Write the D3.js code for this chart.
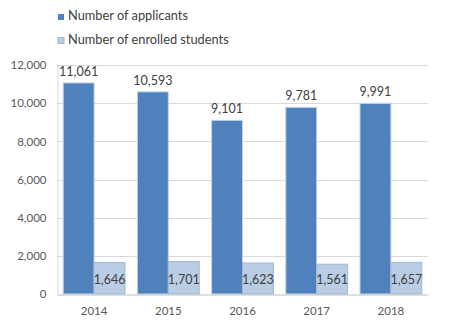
<!DOCTYPE html>
<html>
<head>
<meta charset="utf-8">
<script src="https://cdn.jsdelivr.net/npm/d3@7/dist/d3.min.js"></script>
<style>
  html, body { margin: 0; padding: 0; background: #fff; }
  svg { display: block; font-family: Lato, "Open Sans", sans-serif; }
</style>
</head>
<body>
<svg id="chart" width="450" height="328"></svg>
<script>
// Admissions per year
const years = ["2014", "2015", "2016", "2017", "2018"];
const applicants = [11061, 10593, 9101, 9781, 9991];
const enrolled = [1646, 1701, 1623, 1561, 1657];
const seriesNames = ["Number of applicants", "Number of enrolled students"];
const yTicks = [0, 2000, 4000, 6000, 8000, 10000, 12000];

const colors = { applicants: "#4F81BD", enrolled: "#B9CDE5" };
const strokes = { applicants: "#C6D4E8", enrolled: "#9DB7D9" };

const svg = d3.select("#chart");
const plot = { left: 57, right: 428, top: 65, bottom: 294 };

const x = d3.scaleBand().domain(years).range([plot.left, plot.right]).paddingInner(0).paddingOuter(0);
const barW = x.bandwidth() / 2.4;
const gap = (x.bandwidth() - 2 * barW) / 2;
const y = d3.scaleLinear().domain([0, 12000]).range([plot.bottom, plot.top]);
const fmt = d3.format(",");

// Gridlines
svg.append("g")
  .selectAll("line").data(yTicks.filter(d => d > 0)).join("line")
  .attr("x1", plot.left).attr("x2", plot.right)
  .attr("y1", d => Math.round(y(d)) + 0.5).attr("y2", d => Math.round(y(d)) + 0.5)
  .attr("stroke", "#D9D9D9").attr("stroke-width", 1);

// Y axis
const yAxis = svg.append("g")
  .attr("transform", `translate(${plot.left + 0.5},0)`)
  .call(d3.axisLeft(y).tickValues(yTicks).tickFormat(fmt).tickSize(0).tickPadding(11));
yAxis.select(".domain").attr("stroke", "#D9D9D9");
yAxis.selectAll("text").attr("fill", "#595959").style("font-size", "11.5px").style("font-family", "Lato, sans-serif");

// Bars
const groups = svg.append("g").selectAll("g").data(years).join("g")
  .attr("transform", d => `translate(${x(d)},0)`);

groups.append("rect")
  .attr("x", gap).attr("width", barW)
  .attr("y", (d, i) => y(applicants[i]))
  .attr("height", (d, i) => y(0) - y(applicants[i]))
  .attr("fill", colors.applicants).attr("stroke", strokes.applicants).attr("stroke-width", 1);

groups.append("rect")
  .attr("x", gap + barW).attr("width", barW)
  .attr("y", (d, i) => y(enrolled[i]))
  .attr("height", (d, i) => y(0) - y(enrolled[i]))
  .attr("fill", colors.enrolled).attr("stroke", strokes.enrolled).attr("stroke-width", 1);

// Value labels
groups.append("text")
  .attr("x", gap + barW / 2)
  .attr("y", (d, i) => y(applicants[i]) - 7)
  .attr("text-anchor", "middle")
  .attr("fill", "#404040").style("font-size", "12.5px")
  .text((d, i) => fmt(applicants[i]));

groups.append("text")
  .attr("x", gap + barW * 1.5)
  .attr("y", y(0) - 10)
  .attr("text-anchor", "middle")
  .attr("fill", "#404040").style("font-size", "12.5px")
  .text((d, i) => fmt(enrolled[i]));

// X axis
const xAxis = svg.append("g")
  .attr("transform", `translate(0,${plot.bottom + 0.5})`)
  .call(d3.axisBottom(x).tickSize(0).tickPadding(12));
xAxis.select(".domain").attr("stroke", "#BFBFBF");
xAxis.selectAll("text").attr("fill", "#595959").style("font-size", "11.5px").style("font-family", "Lato, sans-serif");

// Legend
const legend = svg.append("g").attr("transform", "translate(58,0)");
const legendItems = legend.selectAll("g").data(seriesNames).join("g")
  .attr("transform", (d, i) => `translate(0,${14 + i * 23.5})`);
legendItems.append("rect")
  .attr("width", 6).attr("height", 6)
  .attr("fill", (d, i) => i === 0 ? colors.applicants : colors.enrolled)
  .attr("stroke", (d, i) => i === 0 ? "none" : strokes.enrolled);
legendItems.append("text")
  .attr("x", 10).attr("y", 6)
  .attr("fill", "#404040").style("font-size", "12.8px")
  .text(d => d);
</script>
</body>
</html>
